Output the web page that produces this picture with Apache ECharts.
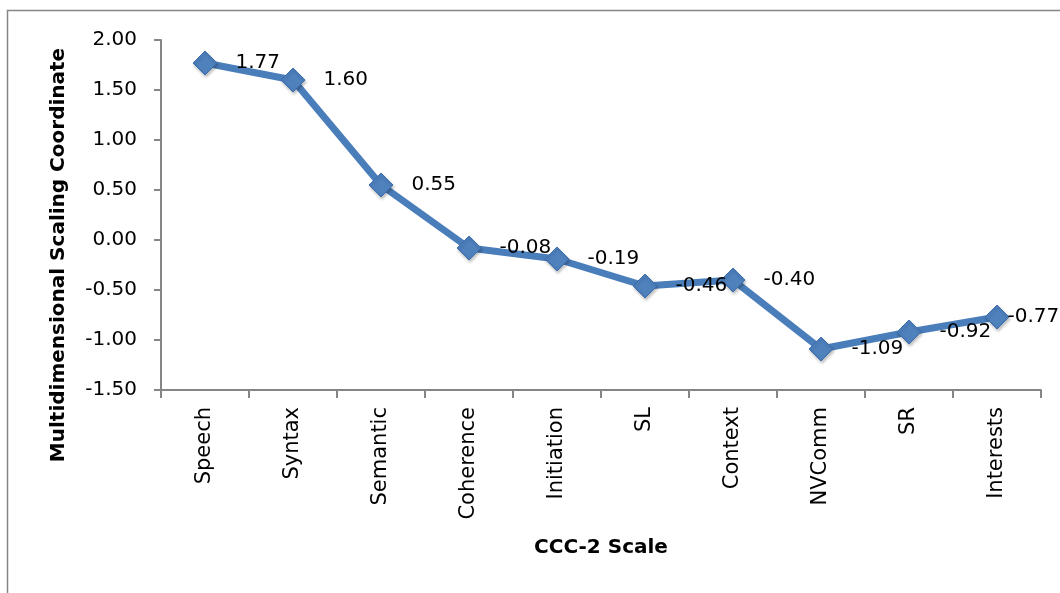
<!DOCTYPE html>
<html>
<head>
<meta charset="utf-8">
<script src="https://cdn.jsdelivr.net/npm/echarts@6/dist/echarts.min.js"></script>
<style>
  html, body { margin: 0; padding: 0; background: #fff; }
  #chart { width: 1060px; height: 593px; }
</style>
</head>
<body>
<div id="chart"></div>
<script>
var categories = ['Speech', 'Syntax', 'Semantic', 'Coherence', 'Initiation', 'SL', 'Context', 'NVComm', 'SR', 'Interests'];
var coords = [1.77, 1.60, 0.55, -0.08, -0.19, -0.46, -0.40, -1.09, -0.92, -0.77];
var yTicks = [-1.5, -1.0, -0.5, 0.0, 0.5, 1.0, 1.5, 2.0];

var axisGrey = '#868686';
var lineBlue = '#4A7EBB';
var font = '"DejaVu Sans", sans-serif';

var chart = echarts.init(document.getElementById('chart'));

chart.setOption({
    animation: false,
    backgroundColor: '#fff',
    grid: { left: 161, right: 19, top: 40, bottom: 203, containLabel: false },
    graphic: [
        {
            type: 'rect',
            shape: { x: 7.5, y: 10.5, width: 1100, height: 700 },
            style: { fill: 'none', stroke: axisGrey, lineWidth: 1.5 },
            silent: true
        },
        {
            type: 'text',
            x: 59, y: 255,
            rotation: Math.PI / 2,
            style: {
                text: 'Multidimensional Scaling Coordinate',
                font: 'bold 20px "DejaVu Sans", sans-serif',
                fill: '#000',
                align: 'center',
                verticalAlign: 'middle'
            }
        }
    ],
    xAxis: {
        type: 'category',
        data: categories,
        boundaryGap: true,
        name: 'CCC-2 Scale',
        nameLocation: 'middle',
        nameGap: 148,
        nameTextStyle: {
            fontFamily: font, fontWeight: 'bold', fontSize: 20, color: '#000'
        },
        axisLine: { onZero: false, lineStyle: { color: axisGrey, width: 2 } },
        axisTick: { show: true, alignWithLabel: false, length: 8, lineStyle: { color: axisGrey, width: 2 } },
        axisLabel: {
            rotate: 90, interval: 0, margin: 17,
            fontFamily: font, fontSize: 21, color: '#000'
        },
        splitLine: { show: false }
    },
    yAxis: {
        type: 'value',
        min: yTicks[0],
        max: yTicks[yTicks.length - 1],
        interval: 0.5,
        axisLine: { show: true, lineStyle: { color: axisGrey, width: 2 } },
        axisTick: { show: true, length: 7, lineStyle: { color: axisGrey, width: 2 } },
        axisLabel: {
            margin: 24, fontFamily: font, fontSize: 20, color: '#000',
            formatter: function (v) { return v.toFixed(2); }
        },
        splitLine: { show: false }
    },
    series: [{
        type: 'line',
        data: coords.map(function (v, i) {
            var item = { value: v };
            // the last label is pulled in so it stays inside the frame
            if (i === coords.length - 1) item.label = { offset: [-20, 0] };
            return item;
        }),
        symbol: 'diamond',
        symbolSize: 24,
        lineStyle: { color: lineBlue, width: 7 },
        itemStyle: {
            color: '#4F81BD', borderColor: '#3C6FAE', borderWidth: 1,
            shadowColor: 'rgba(0,0,0,0.25)', shadowBlur: 3, shadowOffsetX: 1, shadowOffsetY: 2
        },
        label: {
            show: true,
            position: 'right',
            distance: 18,
            fontFamily: font, fontSize: 20, color: '#000',
            formatter: function (p) { return p.value.toFixed(2); }
        }
    }]
});
</script>
</body>
</html>
